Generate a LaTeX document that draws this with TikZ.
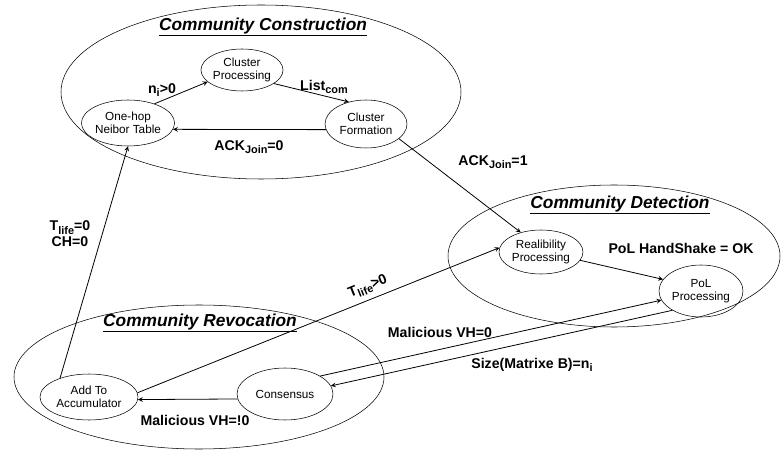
\documentclass[tikz,border=0pt]{standalone}
\usepackage{fontspec}
\setmainfont{Liberation Sans}
\usetikzlibrary{positioning,shapes.geometric}
\newcommand{\lidx}[1]{\raisebox{-0.45ex}{\fontsize{8.2}{9}\selectfont #1}}

\begin{document}
\begin{tikzpicture}[%
x=0.75pt,y=0.75pt,
>=stealth,
state/.style={
ellipse,
draw,
inner sep=0pt,
align=center,
font=\fontsize{8.8}{10}\selectfont},
group/.style={
ellipse,
draw,
inner sep=0pt},
title/.style={
font=\fontsize{13}{15}\selectfont\bfseries\itshape},
lbl/.style={
font=\fontsize{10.6}{12}\selectfont\bfseries,
align=center},
pil/.style={
->,
semithick}
]
\useasboundingbox (0,0) rectangle (781,450);
\node[group,minimum width=300pt,minimum height=130.5pt] (constr) at (261,358) {};
\node[group,minimum width=249pt,minimum height=106.5pt] (detect) at (614,194) {};
\node[group,minimum width=277.5pt,minimum height=108pt] (revoc) at (199,73) {};
\node[title] (tconstr) at (263,423) {\underline{Community Construction}};
\node[title] (tdetect) at (620,245) {\underline{Community Detection}};
\node[title] (trevoc) at (200,127) {\underline{Community Revocation}};
\node[state,minimum width=55.5pt,minimum height=31.5pt] (proc) at (242,380) {Cluster\\Processing};
\node[state,minimum width=63pt,minimum height=34.5pt] (onehop) at (128,327) {One-hop\\Neibor Table};
\node[state,minimum width=61.5pt,minimum height=36pt] (form) at (366,326) {Cluster\\Formation};
\node[state,minimum width=63pt,minimum height=33pt] (reli) at (541,198) {Realibility\\Processing};
\node[state,minimum width=63pt,minimum height=39pt] (pol) at (701,159) {PoL\\Processing};
\node[state,minimum width=73.5pt,minimum height=34.5pt] (addacc) at (89,53) {Add To\\Accumulator};
\node[state,minimum width=72pt,minimum height=39pt] (cons) at (285,56) {Consensus};
\draw[pil] (onehop.36) -- (proc.199);
\draw[pil] (proc.337) -- (form.128);
\draw[pil] (form.188) -- (onehop.352);
\draw[pil] (form.336) -- (reli.136);
\draw[pil] (reli.348) -- (pol.163);
\draw[pil] (addacc.147) -- (onehop.270);
\draw[pil] (addacc.5) -- (reli.174);
\draw[pil] (cons.27) -- (pol.193);
\draw[pil] (pol.214) -- (cons.10);
\draw[pil] (cons.186) -- (addacc.357);
\node[lbl] (lni) at (162,360) {n\lidx{i}>0};
\node[lbl] (llist) at (324,363) {List\lidx{com}};
\node[lbl] (lack0) at (249,303) {ACK\lidx{Join}=0};
\node[lbl] (lack1) at (493,288) {ACK\lidx{Join}=1};
\node[lbl] (lhand) at (681,202) {PoL HandShake = OK};
\node[lbl] (ltlife) at (70,216) {T\lidx{life}=0\\CH=0};
\node[lbl,rotate=22] (ltpos) at (368,163) {T\lidx{life}>0};
\node[lbl] (lmal0) at (440,118) {Malicious VH=0};
\node[lbl] (lsize) at (532,85) {Size(Matrixe B)=n\lidx{i}};
\node[lbl] (lmal1) at (195,30) {Malicious VH=!0};
\end{tikzpicture}
\end{document}
